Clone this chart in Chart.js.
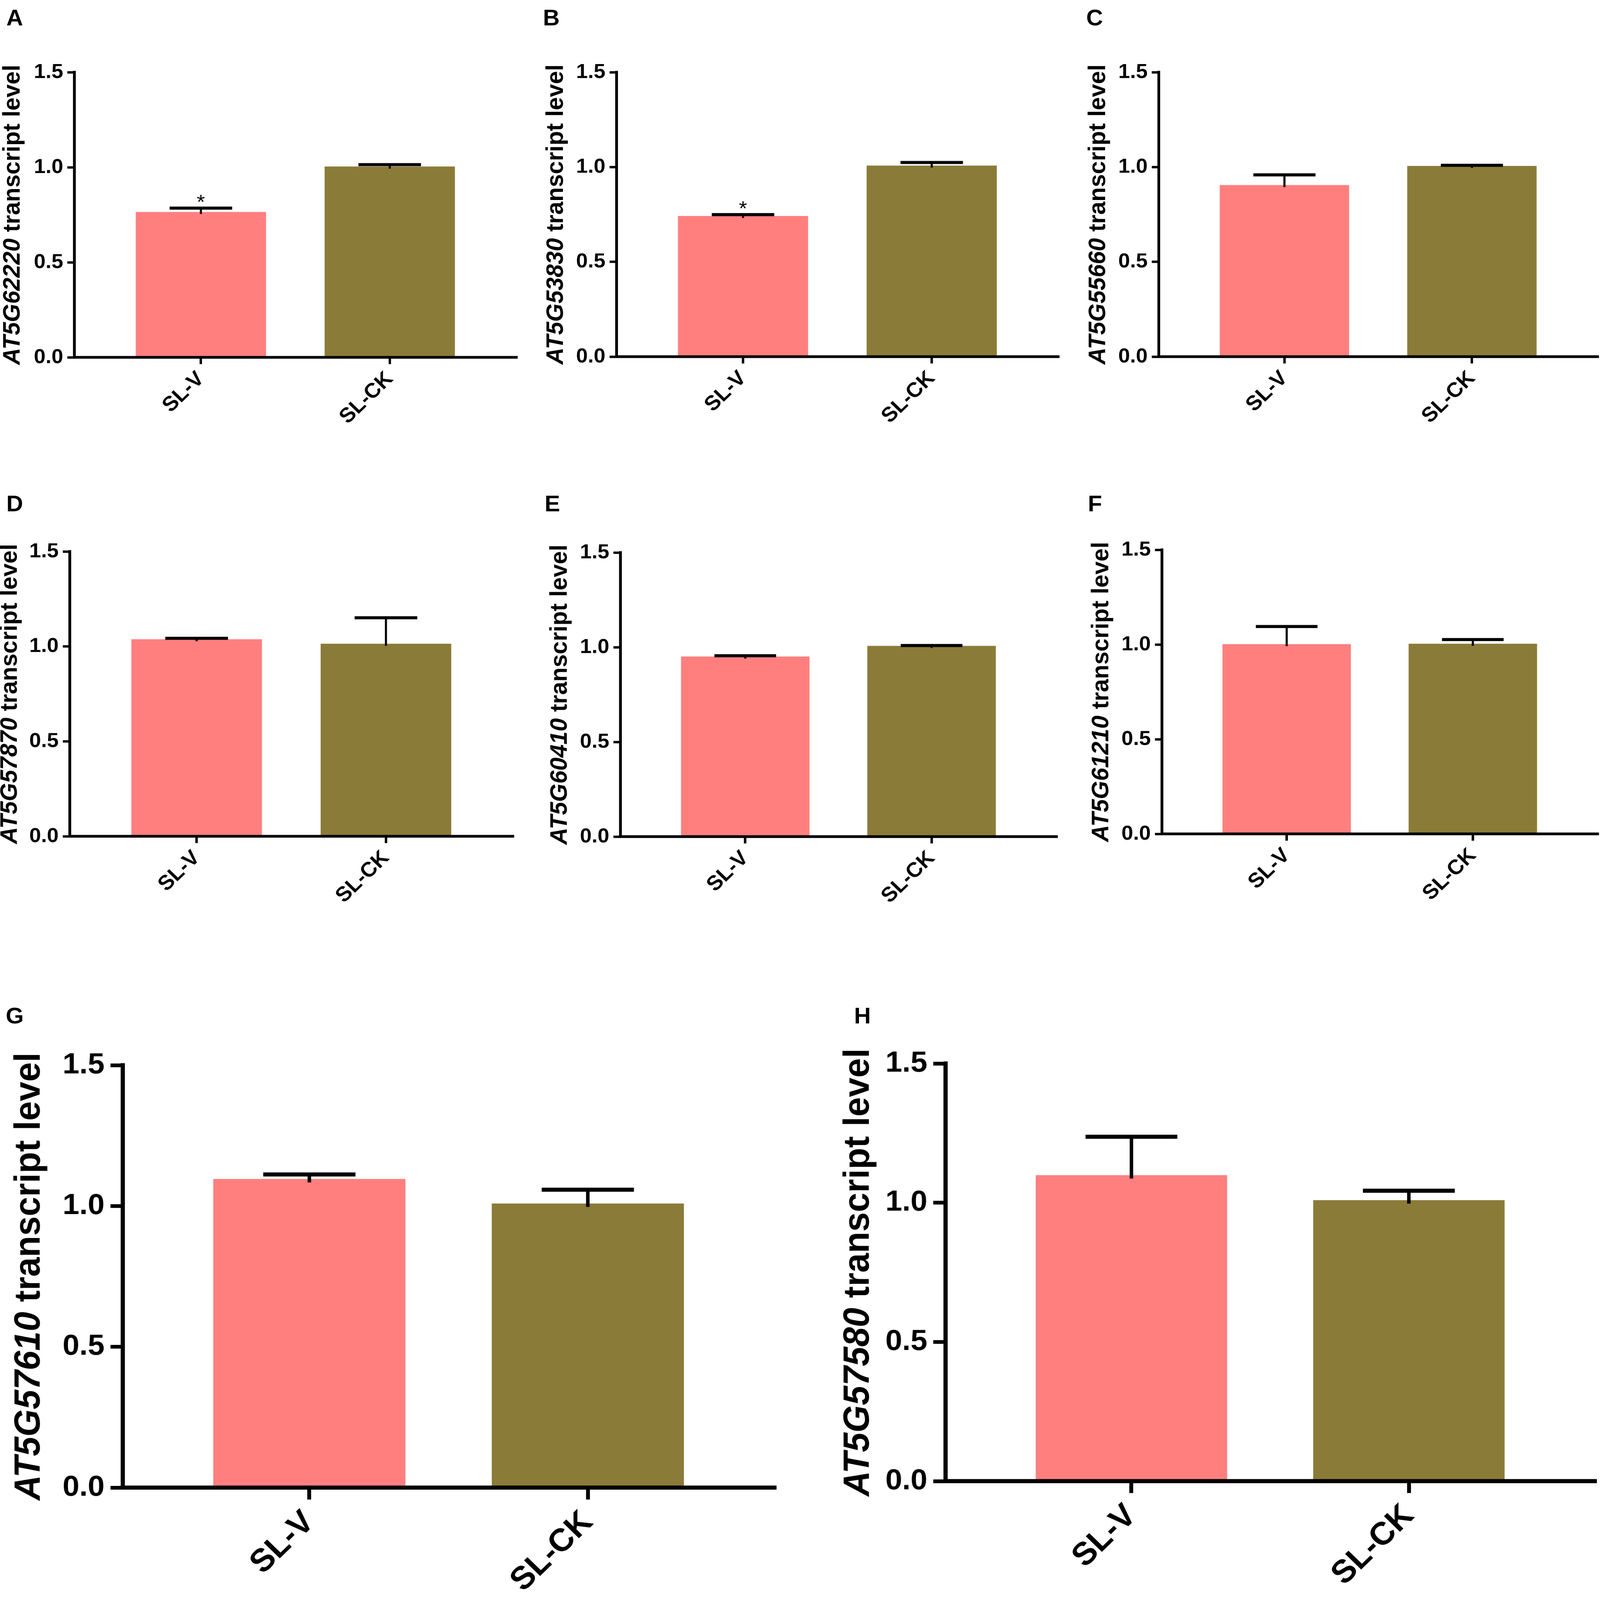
<!DOCTYPE html>
<html>
<head>
<meta charset="utf-8">
<script src="https://cdn.jsdelivr.net/npm/chart.js@4.4.1/dist/chart.umd.min.js"></script>
<style>
  html, body { margin: 0; padding: 0; background: #fff; overflow: hidden; }
  #page { position: relative; width: 4562px; height: 4697px; background: #fff; overflow: hidden; transform-origin: 0 0; }
  #page canvas { position: absolute; }
  .tag { position: absolute; font: bold 66px Arial, "Liberation Sans", sans-serif; line-height: 1; transform: translate(-50%, -50%); }
</style>
</head>
<body>
<div id="page"></div>
<script>
// DATA
var categories = ['SL-V', 'SL-CK'];
var panelTags = ['A', 'B', 'C', 'D', 'E', 'F', 'G', 'H'];
var genes = ['AT5G62220', 'AT5G53830', 'AT5G55660', 'AT5G57870', 'AT5G60410', 'AT5G61210', 'AT5G57610', 'AT5G57580'];

var slvMeans = [0.765, 0.742, 0.905, 1.038, 0.951, 1.002, 1.096, 1.099];
var slvErrors = [0.020, 0.007, 0.054, 0.005, 0.004, 0.093, 0.016, 0.138];
var slckMeans = [1.004, 1.008, 1.006, 1.014, 1.007, 1.004, 1.009, 1.009];
var slckErrors = [0.010, 0.016, 0.003, 0.137, 0.002, 0.022, 0.049, 0.034];
var slvMarks = ['*', '*', '', '', '', '', '', ''];
var slckMarks = ['', '', '', '', '', '', '', ''];

var yTicks = [0, 0.5, 1.0, 1.5];

// STYLE / LAYOUT
var FONT = 'Arial, "Liberation Sans", sans-serif';
var barColors = ['#FF7F7F', '#8B7B38'];

var smallStyle = { yWidth: 215, padTop: 60, padRight: 30, xHeight: 270, title: 69, tick: 60, label: 61,
                   axis: 8, tickLen: 20, tickWidth: 7, stem: 6, cap: 9, mark: 60, yPad: 12, xPad: 8 };
var bigStyle = { yWidth: 320, padTop: 80, padRight: 12, xHeight: 330, title: 103, tick: 86, label: 94,
                 axis: 12, tickLen: 35, tickWidth: 11, stem: 10, cap: 12, mark: 80, yPad: 17, xPad: 12 };

// y axis x, y of 1.5, y of 0.0, end of x axis, title offset, tag centre
var layout = [
  { axisX: 212,  top: 212,  zero: 1049, right: 1472, titleOff: 175, tagX: 42,   tagY: 51,   big: false },
  { axisX: 1758, top: 212,  zero: 1047, right: 3017, titleOff: 172, tagX: 1572, tagY: 51,   big: false },
  { axisX: 3304, top: 212,  zero: 1047, right: 4555, titleOff: 172, tagX: 3121, tagY: 51,   big: false },
  { axisX: 199,  top: 1619, zero: 2455, right: 1462, titleOff: 170, tagX: 42,   tagY: 1478, big: false },
  { axisX: 1769, top: 1622, zero: 2456, right: 3012, titleOff: 172, tagX: 1575, tagY: 1478, big: false },
  { axisX: 3313, top: 1614, zero: 2448, right: 4555, titleOff: 172, tagX: 3122, tagY: 1478, big: false },
  { axisX: 350,  top: 3127, zero: 4367, right: 2208, titleOff: 265, tagX: 42,   tagY: 2981, big: true },
  { axisX: 2696, top: 3122, zero: 4348, right: 4547, titleOff: 247, tagX: 2459, tagY: 2981, big: true }
];

// error bars and significance marks, placed through the chart's own scales
var errorBars = {
  id: 'errorBars',
  afterDatasetsDraw: function(chart) {
    var ctx = chart.ctx;
    var y = chart.scales.y;
    var st = chart.options.plugins.yTitle.style;
    chart.data.datasets.forEach(function(ds, d) {
      var meta = chart.getDatasetMeta(d);
      meta.data.forEach(function(bar, i) {
        var mean = ds.data[i].y;
        var top = y.getPixelForValue(mean + ds.errors[i]);
        var half = bar.width * 0.24;
        ctx.save();
        ctx.strokeStyle = '#000';
        ctx.lineCap = 'butt';
        ctx.lineWidth = st.stem;
        ctx.beginPath();
        ctx.moveTo(bar.x, y.getPixelForValue(mean) + st.stem);
        ctx.lineTo(bar.x, top);
        ctx.stroke();
        ctx.lineWidth = st.cap;
        ctx.beginPath();
        ctx.moveTo(bar.x - half, top);
        ctx.lineTo(bar.x + half, top);
        ctx.stroke();
        if (ds.marks[i]) {
          ctx.fillStyle = '#000';
          ctx.font = st.mark + 'px ' + FONT;
          ctx.textAlign = 'center';
          ctx.textBaseline = 'alphabetic';
          ctx.fillText(ds.marks[i], bar.x, top + 2);
        }
        ctx.restore();
      });
    });
  }
};

// y axis title: italic gene name followed by upright words
var yTitle = {
  id: 'yTitle',
  afterDraw: function(chart, args, opts) {
    var ctx = chart.ctx;
    var a = chart.chartArea;
    var rest = ' transcript level';
    var italic = 'italic bold ' + opts.style.title + 'px ' + FONT;
    var upright = 'bold ' + opts.style.title + 'px ' + FONT;
    ctx.save();
    ctx.translate(a.left - opts.offset, (a.top + a.bottom) / 2);
    ctx.rotate(-Math.PI / 2);
    ctx.fillStyle = '#000';
    ctx.textBaseline = 'middle';
    ctx.textAlign = 'left';
    ctx.font = italic;
    var w1 = ctx.measureText(opts.gene).width;
    ctx.font = upright;
    var w2 = ctx.measureText(rest).width;
    var x0 = -(w1 + w2) / 2;
    ctx.font = italic;
    ctx.fillText(opts.gene, x0, 0);
    ctx.font = upright;
    ctx.fillText(rest, x0 + w1, 0);
    ctx.restore();
  }
};

var page = document.getElementById('page');

// the window is smaller than the figure, so squeeze the figure to fill it
var fitX = Math.min(1, window.innerWidth / 4562);
var fitY = Math.min(1, window.innerHeight / 4697);
page.style.transform = 'scale(' + fitX + ',' + fitY + ')';

function makePanel(i) {
  var p = layout[i];
  var st = p.big ? bigStyle : smallStyle;

  var tag = document.createElement('div');
  tag.className = 'tag';
  tag.textContent = panelTags[i];
  tag.style.left = p.tagX + 'px';
  tag.style.top = p.tagY + 'px';
  page.appendChild(tag);

  var left = p.axisX - st.yWidth;
  var top = p.top - st.padTop;
  var w = p.right + st.padRight - left;
  var h = p.zero + st.xHeight - top;
  var canvas = document.createElement('canvas');
  canvas.width = w;
  canvas.height = h;
  canvas.style.left = left + 'px';
  canvas.style.top = top + 'px';
  canvas.style.width = w + 'px';
  canvas.style.height = h + 'px';
  page.appendChild(canvas);

  new Chart(canvas.getContext('2d'), {
    type: 'bar',
    data: {
      datasets: [{
        data: [{ x: 1, y: slvMeans[i] }, { x: 2, y: slckMeans[i] }],
        errors: [slvErrors[i], slckErrors[i]],
        marks: [slvMarks[i], slckMarks[i]],
        backgroundColor: barColors,
        borderWidth: 0,
        barPercentage: 0.69,
        categoryPercentage: 1
      }]
    },
    options: {
      responsive: false,
      devicePixelRatio: 1,
      animation: false,
      events: [],
      layout: {
        padding: { top: st.padTop, right: st.padRight, left: 0, bottom: 0 }
      },
      plugins: {
        legend: { display: false },
        tooltip: { enabled: false },
        yTitle: { gene: genes[i], offset: p.titleOff, style: st }
      },
      scales: {
        x: {
          type: 'linear',
          offset: false,
          min: 0.33,
          max: 2.67,
          afterBuildTicks: function(axis) {
            axis.ticks = categories.map(function(c, k) { return { value: k + 1 }; });
          },
          afterFit: function(axis) { axis.height = st.xHeight; },
          ticks: {
            autoSkip: false,
            minRotation: 45,
            maxRotation: 45,
            padding: st.xPad,
            color: '#000',
            font: { family: FONT, size: st.label, weight: 'bold' },
            callback: function(v) { return categories[v - 1]; }
          },
          grid: {
            offset: false,
            drawOnChartArea: false,
            drawTicks: true,
            tickLength: st.tickLen,
            lineWidth: st.tickWidth,
            tickWidth: st.tickWidth,
            tickColor: '#000'
          },
          border: { display: true, color: '#000', width: st.axis, z: 1 }
        },
        y: {
          min: 0,
          max: 1.5,
          afterBuildTicks: function(axis) {
            axis.ticks = yTicks.map(function(v) { return { value: v }; });
          },
          afterFit: function(axis) { axis.width = st.yWidth; },
          ticks: {
            padding: st.yPad,
            color: '#000',
            font: { family: FONT, size: st.tick, weight: 'bold' },
            callback: function(v) { return v.toFixed(1); }
          },
          grid: {
            drawOnChartArea: false,
            drawTicks: true,
            tickLength: st.tickLen,
            lineWidth: st.tickWidth,
            tickWidth: st.tickWidth,
            tickColor: '#000'
          },
          border: { display: true, color: '#000', width: st.axis, z: 1 }
        }
      }
    },
    plugins: [errorBars, yTitle]
  });
}

for (var i = 0; i < genes.length; i++) {
  makePanel(i);
}
</script>
</body>
</html>
